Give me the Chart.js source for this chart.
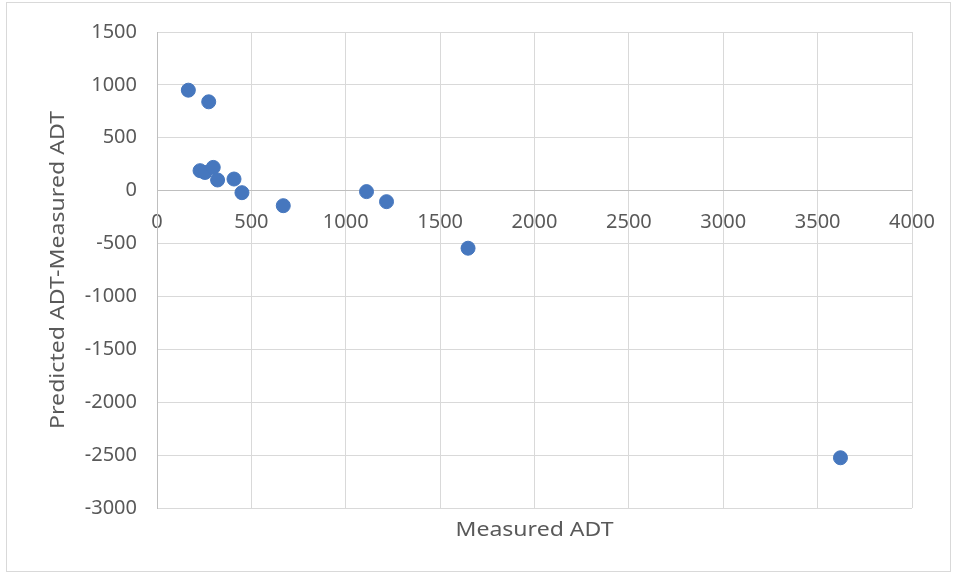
<!DOCTYPE html>
<html>
<head>
<meta charset="utf-8">
<style>
  html, body { margin: 0; padding: 0; background: #fff; }
  #wrap { position: relative; width: 960px; height: 579px; }
</style>
<script src="https://cdn.jsdelivr.net/npm/chart.js@4/dist/chart.umd.min.js"></script>
</head>
<body>
<div id="wrap"><canvas id="adtChart" width="960" height="579"></canvas></div>
<script>
// measured ADT vs. residual (predicted - measured)
const measuredAdt = [166, 274, 228, 254, 298, 321, 408, 450, 669, 1110, 1216, 1648, 3621];
const adtDiff = [950, 840, 189, 172, 220, 101, 110, -19, -142, -9, -104, -544, -2525];

const xTitle = 'Measured ADT';
const yTitle = 'Predicted ADT-Measured ADT';

const FONT = '"Noto Sans", "Liberation Sans", sans-serif';
const TEXT_COLOR = '#595959';
const GRID_COLOR = '#d9d9d9';

// draw a label stretched along its baseline to a given length
function stretchedText(ctx, text, x, y, width, angle) {
  ctx.save();
  ctx.translate(x, y);
  ctx.rotate(angle);
  const w = ctx.measureText(text).width;
  ctx.scale(width / w, 1);
  ctx.fillText(text, 0, 0);
  ctx.restore();
}

// frame + axis titles, drawn by hand so the x axis can sit at y = 0
const decorations = {
  id: 'decorations',
  beforeDraw(chart) {
    const ctx = chart.ctx;
    ctx.save();
    ctx.fillStyle = '#fff';
    ctx.fillRect(0, 0, chart.width, chart.height);
    ctx.strokeStyle = GRID_COLOR;
    ctx.lineWidth = 1;
    ctx.strokeRect(6.5, 2.5, 944, 569);
    ctx.restore();
  },
  afterDraw(chart) {
    const ctx = chart.ctx;
    const area = chart.chartArea;
    ctx.save();
    ctx.fillStyle = TEXT_COLOR;
    ctx.font = '20px ' + FONT;
    ctx.textAlign = 'center';
    ctx.textBaseline = 'middle';
    stretchedText(ctx, xTitle, (area.left + area.right) / 2, 530, 158, 0);
    stretchedText(ctx, yTitle, 58, (area.top + area.bottom) / 2, 318, -Math.PI / 2);
    ctx.restore();
  }
};

new Chart(document.getElementById('adtChart'), {
  type: 'scatter',
  data: {
    datasets: [{
      data: measuredAdt.map((x, i) => ({ x: x, y: adtDiff[i] })),
      backgroundColor: '#4677BE',
      borderColor: '#4677BE',
      pointRadius: 7,
      pointHoverRadius: 7
    }]
  },
  options: {
    responsive: false,
    animation: false,
    layout: { padding: { left: 0, top: 32, right: 48, bottom: 71 } },
    plugins: { legend: { display: false }, tooltip: { enabled: false } },
    scales: {
      x: {
        type: 'linear',
        position: { y: 0 },
        min: 0,
        max: 4000,
        ticks: {
          stepSize: 500, color: TEXT_COLOR, font: { family: FONT, size: 20 }, padding: 20, maxRotation: 0,
          callback: v => String(v)
        },
        grid: { color: GRID_COLOR, lineWidth: 1, drawTicks: false },
        border: { display: false }
      },
      y: {
        min: -3000,
        max: 1500,
        afterFit(scale) { scale.width = 157; },
        ticks: {
          stepSize: 500, color: TEXT_COLOR, font: { family: FONT, size: 20 }, padding: 20,
          callback: v => String(v)
        },
        grid: {
          color: ctx => ctx.tick && ctx.tick.value === 0 ? '#bfbfbf' : GRID_COLOR,
          lineWidth: 1,
          drawTicks: false
        },
        border: { color: '#bfbfbf' }
      }
    }
  },
  plugins: [decorations]
});
</script>
</body>
</html>
